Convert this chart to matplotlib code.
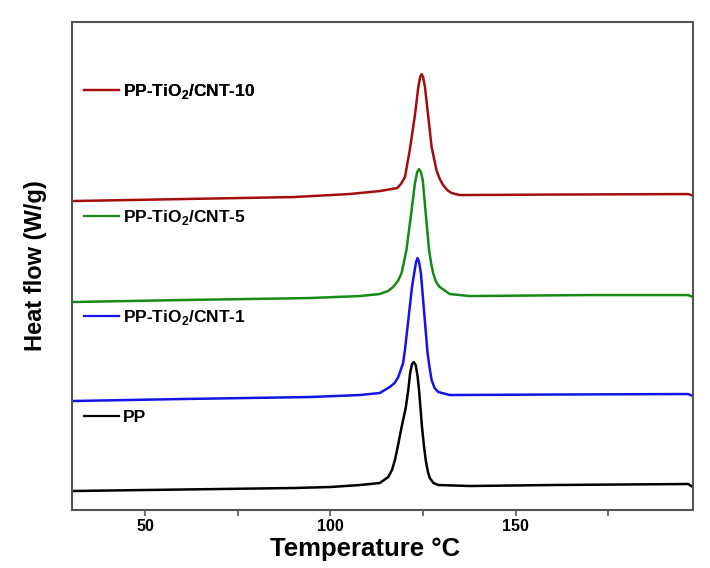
import matplotlib.pyplot as plt
from matplotlib.lines import Line2D
from matplotlib.ticker import MultipleLocator

plt.rcParams['font.family'] = ['Liberation Sans', 'DejaVu Sans']
plt.rcParams['mathtext.fontset'] = 'custom'
plt.rcParams['mathtext.rm'] = 'Liberation Sans:bold'
plt.rcParams['mathtext.bf'] = 'Liberation Sans:bold'

# DSC cooling curves (offset stacked, arbitrary W/g)
t_pp = [30.2, 60, 90, 100, 108, 113.3, 115.6, 116.6, 117.4, 118.3, 119.2, 120.3, 121.0,
        121.5, 122.0, 122.5, 123.0, 123.5, 123.9, 124.7, 125.2, 125.7, 126.3, 126.8,
        127.8, 129.1, 137.6, 160, 196.5, 197.8]
hf_pp = [0.28, 0.295, 0.31, 0.32, 0.34, 0.36, 0.42, 0.49, 0.59, 0.75, 0.92, 1.11, 1.29,
         1.46, 1.55, 1.57, 1.54, 1.43, 1.29, 0.92, 0.74, 0.59, 0.47, 0.41,
         0.36, 0.34, 0.33, 0.34, 0.35, 0.32]

t_cnt1 = [30.2, 60, 94.4, 107.9, 113.3, 116.0, 117.3, 118.3, 119.6, 120.1, 121.4, 122.0,
          122.6, 123.1, 123.5, 123.9, 124.4, 125.3, 126.2, 126.8, 127.3, 128.1, 129.1,
          132.2, 160, 196.5, 197.8]
hf_cnt1 = [1.18, 1.20, 1.22, 1.24, 1.26, 1.32, 1.36, 1.42, 1.56, 1.69, 2.12, 2.32,
           2.46, 2.57, 2.61, 2.57, 2.46, 2.06, 1.66, 1.50, 1.39, 1.31, 1.27,
           1.24, 1.245, 1.25, 1.23]

t_cnt5 = [30.2, 60, 94.4, 107.9, 113.3, 115.5, 116.9, 118.2, 119.2, 120.5, 121.9, 122.8,
          123.4, 123.9, 124.4, 124.9, 125.7, 126.6, 127.2, 127.7, 128.5, 129.5, 132.2,
          137.6, 170, 196.5, 197.8]
hf_cnt5 = [2.17, 2.19, 2.21, 2.23, 2.25, 2.28, 2.32, 2.38, 2.46, 2.69, 3.09, 3.36,
           3.47, 3.50, 3.47, 3.39, 3.06, 2.69, 2.55, 2.46, 2.37, 2.32, 2.25,
           2.23, 2.24, 2.24, 2.22]

t_cnt10 = [30.2, 60, 90, 105, 113.3, 118.0, 119.0, 120.1, 121.4, 122.8, 123.7, 124.2,
           124.6, 125.0, 125.5, 126.4, 127.3, 128.6, 129.5, 130.4, 131.5, 132.7, 134.9,
           160, 196.5, 197.8]
hf_cnt10 = [3.18, 3.20, 3.22, 3.25, 3.28, 3.31, 3.35, 3.42, 3.69, 4.04, 4.32, 4.42,
            4.45, 4.42, 4.32, 4.02, 3.72, 3.49, 3.40, 3.34, 3.29, 3.26, 3.24,
            3.245, 3.25, 3.235]

labels = ['PP', 'PP-TiO$_2$/CNT-1', 'PP-TiO$_2$/CNT-5', 'PP-TiO$_2$/CNT-10']
colors = ['black', '#1414e6', '#168a16', '#a50d0d']
label_y = [0.189, 0.395, 0.600, 0.857]

fig = plt.figure(figsize=(7.1, 5.68), dpi=100)
ax = fig.add_axes([0.101, 0.1021, 0.875, 0.859])

series = [(t_pp, hf_pp), (t_cnt1, hf_cnt1), (t_cnt5, hf_cnt5), (t_cnt10, hf_cnt10)]
for (t, hf), c, lab, ly in zip(series, colors, labels, label_y):
    ax.plot(t, hf, color=c, lw=1.8)
    # one small legend per curve, placed next to its trace like the original
    leg = ax.legend([Line2D([], [], color=c, lw=1.6)], [lab], loc='center left',
                    bbox_to_anchor=(0.0, ly), frameon=False, handlelength=2.05,
                    handletextpad=0.2, borderaxespad=0.3,
                    prop={'weight': 'bold', 'size': 12.5})
    ax.add_artist(leg)

ax.set_xlim(30.2, 197.8)
ax.set_ylim(0.09, 4.97)
ax.xaxis.set_major_locator(MultipleLocator(50))
ax.xaxis.set_minor_locator(MultipleLocator(25))
ax.tick_params(axis='x', which='both', direction='out', length=4.5, width=1.2,
               color='#555555', labelsize=11.5, pad=2)
ax.set_yticks([])
for lbl in ax.get_xticklabels():
    lbl.set_fontweight('bold')
for s in ax.spines.values():
    s.set_color('#555555')
    s.set_linewidth(1.5)

ax.set_xlabel('Temperature °C', fontsize=18.5, fontweight='bold')
ax.xaxis.set_label_coords(0.473, -0.055)
ax.set_ylabel('Heat flow (W/g)', fontsize=17, fontweight='bold', labelpad=18)

fig.savefig('out.png', dpi=100)
